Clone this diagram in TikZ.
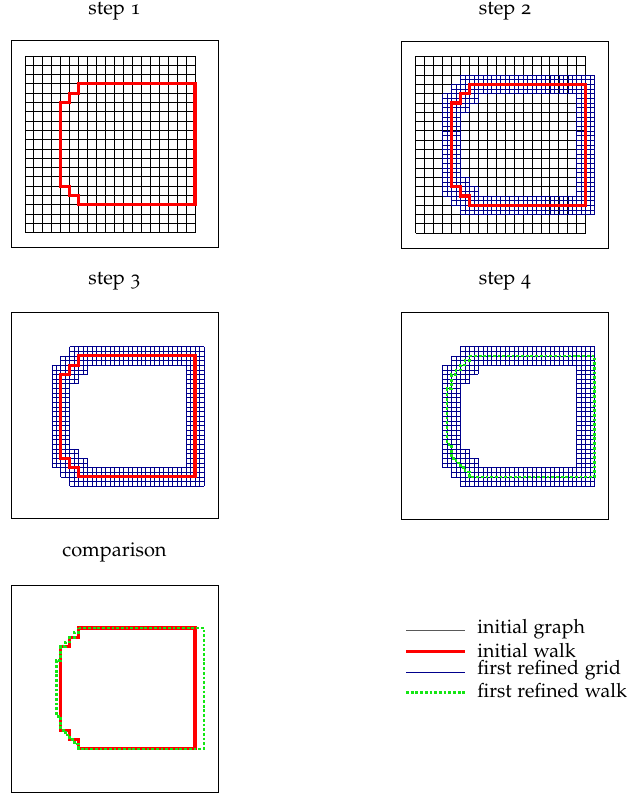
\documentclass[tikz,border=0pt]{standalone}
\usepackage[T1]{fontenc}
\usepackage[osf]{mathpazo}
\definecolor{navyblue}{RGB}{0,0,140}
\definecolor{walkgreen}{RGB}{20,230,20}
\tikzset{
  panelbox/.style={draw=black, line width=0.5pt},
  coarse/.style={draw=black, line width=0.45pt},
  fine/.style={draw=navyblue, line width=0.3pt},
  walk/.style={draw=red, line width=1.6pt, line join=miter},
  rwalk/.style={draw=walkgreen, line width=1.3pt, dash pattern=on 1.4pt off 0.95pt},
  title/.style={font=\fontsize{10}{12}\selectfont, inner sep=0pt},
  legtext/.style={font=\fontsize{9.8}{12}\selectfont, anchor=west, inner sep=0pt}
}
\newcommand\finerect[4]{%
  \pgfmathtruncatemacro\nnx{2*(#3-#1)}%
  \pgfmathtruncatemacro\nny{2*(#4-#2)}%
  \foreach \k in {0,...,\nnx} \draw[fine] ({#1+\k/2},#2) -- ({#1+\k/2},#4);
  \foreach \k in {0,...,\nny} \draw[fine] (#1,{#2+\k/2}) -- (#3,{#2+\k/2});
}
\newcommand\bandgrid{%
  \finerect{5}{2}{20}{4}
  \finerect{4}{3}{5}{4}
  \finerect{3}{4}{5}{15}
  \finerect{5}{4}{7}{5}
  \finerect{5}{5}{6}{6}
  \finerect{5}{13}{6}{14}
  \finerect{5}{14}{7}{15}
  \finerect{4}{15}{5}{16}
  \finerect{5}{15}{20}{17}
  \finerect{18}{4}{20}{15}
}
\newcommand\coarsegrid{%
  \foreach \i in {0,...,19} \draw[coarse] (\i,0) -- (\i,19);
  \foreach \j in {0,...,19} \draw[coarse] (0,\j) -- (19,\j);
}
\newcommand\redwalk{%
  \draw[walk] (6,3) -- (19,3) -- (19,16) -- (6,16) -- (6,15) -- (5,15) -- (5,14) -- (4,14)
    -- (4,5) -- (5,5) -- (5,4) -- (6,4) -- cycle;
}
\newcommand\greenwalk{%
  \draw[rwalk] (6,3) -- (20,3) -- (20,16) -- (6,16) -- (6,15.5) -- (5.5,15.5) -- (5.5,15)
    -- (5,15) -- (5,14.5) -- (4.5,14.5) -- (4.5,14) -- (4,14) -- (4,12.5) -- (3.5,12.5)
    -- (3.5,6.5) -- (4,6.5) -- (4,5) -- (4.5,5) -- (4.5,4.5) -- (5,4.5) -- (5,4)
    -- (5.5,4) -- (5.5,3.5) -- (6,3.5) -- cycle;
}
\begin{document}
\begin{tikzpicture}[x=0.5pt,y=-0.5pt]
\useasboundingbox (0,0) rectangle (628,795);

% titles
\node[title] (t1) at (114.5,11) {step 1};
\node[title] (t2) at (505,11) {step 2};
\node[title] (t3) at (114.5,281) {step 3};
\node[title] (t4) at (505,281) {step 4};
\node[title] (t5) at (114.5,552) {comparison};

% step 1
\begin{scope}[shift={(0,0)}]
  \draw[panelbox] (11,41) rectangle (218,248);
  \begin{scope}[shift={(25,56)}, x=4.4735pt, y=-4.65pt]
    \coarsegrid
    \redwalk
  \end{scope}
\end{scope}

% step 2
\begin{scope}[shift={(390.7,0.5)}]
  \draw[panelbox] (11,41) rectangle (218,248);
  \begin{scope}[shift={(25,56)}, x=4.4735pt, y=-4.65pt]
    \coarsegrid
    \bandgrid
    \redwalk
  \end{scope}
\end{scope}

% step 3
\begin{scope}[shift={(0,272)}]
  \draw[panelbox] (11,41) rectangle (218,246);
  \begin{scope}[shift={(25,56)}, x=4.4735pt, y=-4.65pt]
    \bandgrid
    \redwalk
  \end{scope}
\end{scope}

% step 4
\begin{scope}[shift={(390.7,272)}]
  \draw[panelbox] (11,41) rectangle (218,247);
  \begin{scope}[shift={(25,56)}, x=4.4735pt, y=-4.65pt]
    \bandgrid
    \greenwalk
  \end{scope}
\end{scope}

% comparison
\begin{scope}[shift={(0,544)}]
  \draw[panelbox] (11,41) rectangle (218,248);
  \begin{scope}[shift={(25,56)}, x=4.4735pt, y=-4.65pt]
    \redwalk
    \greenwalk
  \end{scope}
\end{scope}

% legend
\coordinate (l1a) at (406,630);   \coordinate (l1b) at (465,630);
\coordinate (l2a) at (406,651.5); \coordinate (l2b) at (465,651.5);
\coordinate (l3a) at (406,672.5); \coordinate (l3b) at (465,672.5);
\coordinate (l4a) at (406,692.5); \coordinate (l4b) at (465,692.5);
\draw[draw=black!65, line width=0.5pt] (l1a) -- (l1b);
\draw[walk] (l2a) -- (l2b);
\draw[fine, line width=0.45pt] (l3a) -- (l3b);
\draw[rwalk] (l4a) -- (l4b);
\node[legtext] (g1) at (477,629) {initial graph};
\node[legtext] (g2) at (477,650) {initial walk};
\node[legtext] (g3) at (477,670.5) {first refined grid};
\node[legtext] (g4) at (477,690.5) {first refined walk};
\end{tikzpicture}
\end{document}
